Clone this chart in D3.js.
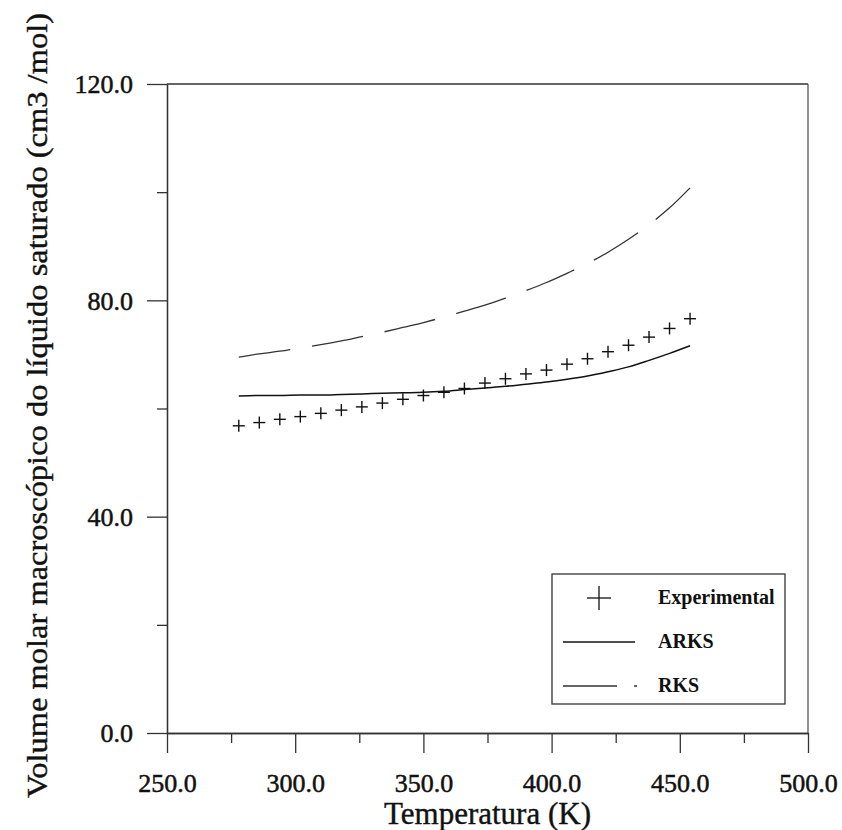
<!DOCTYPE html>
<html>
<head>
<meta charset="utf-8">
<script src="https://cdn.jsdelivr.net/npm/d3@7"></script>
<style>
    html, body { margin: 0; padding: 0; background: #fff; }
    svg { display: block; font-family: "Liberation Serif", "Times New Roman", serif; }
</style>
</head>
<body>
<div id="chart"></div>
<script>
// Temperature points (K)
const temps = [278, 286, 294, 302, 310, 318, 326, 334, 342, 350, 358, 366,
    374, 382, 390, 398, 406, 414, 422, 430, 438, 446, 454];

// Volume molar (cm3/mol)
const experimental = [56.8, 57.4, 58.0, 58.5, 59.1, 59.7, 60.3, 61.0, 61.7, 62.4, 63.0, 63.7,
    64.7, 65.5, 66.4, 67.1, 68.2, 69.2, 70.5, 71.7, 73.2, 74.8, 76.6];
const arks = [62.3, 62.4, 62.4, 62.5, 62.5, 62.6, 62.7, 62.8, 62.9, 63.0, 63.2, 63.5,
    63.8, 64.1, 64.5, 64.9, 65.4, 66.0, 66.8, 67.7, 68.9, 70.2, 71.6];
const rks = [69.5, 70.1, 70.6, 71.2, 71.8, 72.5, 73.3, 74.1, 75.0, 75.9, 76.9, 78.0,
    79.1, 80.4, 81.8, 83.3, 85.0, 86.8, 88.9, 91.3, 94.0, 97.1, 100.8];

const xMajor = [250, 300, 350, 400, 450, 500];
const xMinor = [275, 325, 375, 425, 475];
const yMajor = [0, 40, 80, 120];
const yMinor = [20, 60, 100];

const legendItems = ['Experimental', 'ARKS', 'RKS'];

const width = 842, height = 830;
const svg = d3.select('#chart').append('svg')
    .attr('width', width)
    .attr('height', height);

const x = d3.scaleLinear().domain([250, 500]).range([167, 808]);
const y = d3.scaleLinear().domain([0, 120]).range([733, 84]);

const ink = '#111';

// Axes
const xAxisG = svg.append('g').attr('transform', `translate(0,${y(0)})`);
xAxisG.call(d3.axisBottom(x).tickValues(xMinor).tickSize(10).tickSizeOuter(0).tickFormat(''));
xAxisG.append('g').call(d3.axisBottom(x).tickValues(xMajor).tickSize(20).tickSizeOuter(0)
    .tickFormat(d3.format('.1f')));

const yAxisG = svg.append('g').attr('transform', `translate(${x(250)},0)`);
yAxisG.call(d3.axisLeft(y).tickValues(yMinor).tickSize(10).tickSizeOuter(0).tickFormat(''));
yAxisG.append('g').call(d3.axisLeft(y).tickValues(yMajor).tickSize(20).tickSizeOuter(0)
    .tickFormat(d3.format('.1f')));

svg.selectAll('.domain, .tick line').attr('stroke', '#333').attr('stroke-width', 1.3);
svg.selectAll('.tick text')
    .attr('fill', ink)
    .attr('stroke', ink)
    .attr('stroke-width', 0.5)
    .style('font-size', '26px')
    .style('font-family', '"Liberation Serif", serif');
xAxisG.selectAll('.tick text').attr('y', 59).attr('dy', null);
yAxisG.selectAll('.tick text').attr('x', -34).attr('dy', '0.34em');

// Frame top and right
svg.append('line')
    .attr('x1', x(250)).attr('x2', x(500))
    .attr('y1', y(120)).attr('y2', y(120))
    .attr('stroke', '#333').attr('stroke-width', 1.3);
svg.append('line')
    .attr('x1', x(500)).attr('x2', x(500))
    .attr('y1', y(120)).attr('y2', y(0))
    .attr('stroke', '#555').attr('stroke-width', 1.3);

// Axis titles
svg.append('text')
    .attr('x', (x(250) + x(500)) / 2)
    .attr('y', 824)
    .attr('text-anchor', 'middle')
    .attr('fill', ink)
    .attr('stroke', ink)
    .attr('stroke-width', 0.4)
    .style('font-size', '31px')
    .text('Temperatura (K)');

svg.append('text')
    .attr('transform', `translate(47,${(y(0) + y(120)) / 2 - 3}) rotate(-90)`)
    .attr('text-anchor', 'middle')
    .attr('fill', ink)
    .attr('stroke', ink)
    .attr('stroke-width', 0.4)
    .attr('textLength', 785)
    .attr('lengthAdjust', 'spacingAndGlyphs')
    .style('font-size', '30px')
    .text('Volume molar macroscópico do líquido saturado (cm3 /mol)');

// Curves
const line = d3.line()
    .x((d, i) => x(temps[i]))
    .y(d => y(d))
    .curve(d3.curveMonotoneX);

svg.append('path')
    .datum(arks)
    .attr('d', line)
    .attr('fill', 'none')
    .attr('stroke', ink)
    .attr('stroke-width', 1.5);

svg.append('path')
    .datum(rks)
    .attr('d', line)
    .attr('fill', 'none')
    .attr('stroke', '#333')
    .attr('stroke-width', 1.3)
    .attr('stroke-dasharray', '52,22');

// Experimental crosses
const cross = (g, s) => {
    g.append('line').attr('x1', -s).attr('x2', s).attr('y1', 0).attr('y2', 0);
    g.append('line').attr('x1', 0).attr('x2', 0).attr('y1', -s).attr('y2', s);
};

svg.append('g')
    .selectAll('g')
    .data(experimental)
    .join('g')
    .attr('transform', (d, i) => `translate(${x(temps[i])},${y(d)})`)
    .attr('stroke', ink)
    .attr('stroke-width', 1.4)
    .each(function () { cross(d3.select(this), 6); });

// Legend
const legend = svg.append('g');
legend.append('rect')
    .attr('x', 552).attr('y', 574)
    .attr('width', 233).attr('height', 130)
    .attr('fill', '#fff')
    .attr('stroke', '#333')
    .attr('stroke-width', 1.3);

const legendY = [598, 642, 686];

const expG = legend.append('g')
    .attr('transform', `translate(599,${legendY[0]})`)
    .attr('stroke', ink)
    .attr('stroke-width', 1.3);
cross(expG, 12);

legend.append('line')
    .attr('x1', 563).attr('x2', 635)
    .attr('y1', legendY[1]).attr('y2', legendY[1])
    .attr('stroke', ink).attr('stroke-width', 1.5);

legend.append('line')
    .attr('x1', 563).attr('x2', 637)
    .attr('y1', legendY[2]).attr('y2', legendY[2])
    .attr('stroke', '#333').attr('stroke-width', 1.3)
    .attr('stroke-dasharray', '54,17');

legend.selectAll('text.leg')
    .data(legendItems)
    .join('text')
    .attr('class', 'leg')
    .attr('x', 658)
    .attr('y', (d, i) => legendY[i] + 6)
    .attr('fill', ink)
    .style('font-size', '20px')
    .style('font-weight', 'bold')
    .text(d => d);
</script>
</body>
</html>
